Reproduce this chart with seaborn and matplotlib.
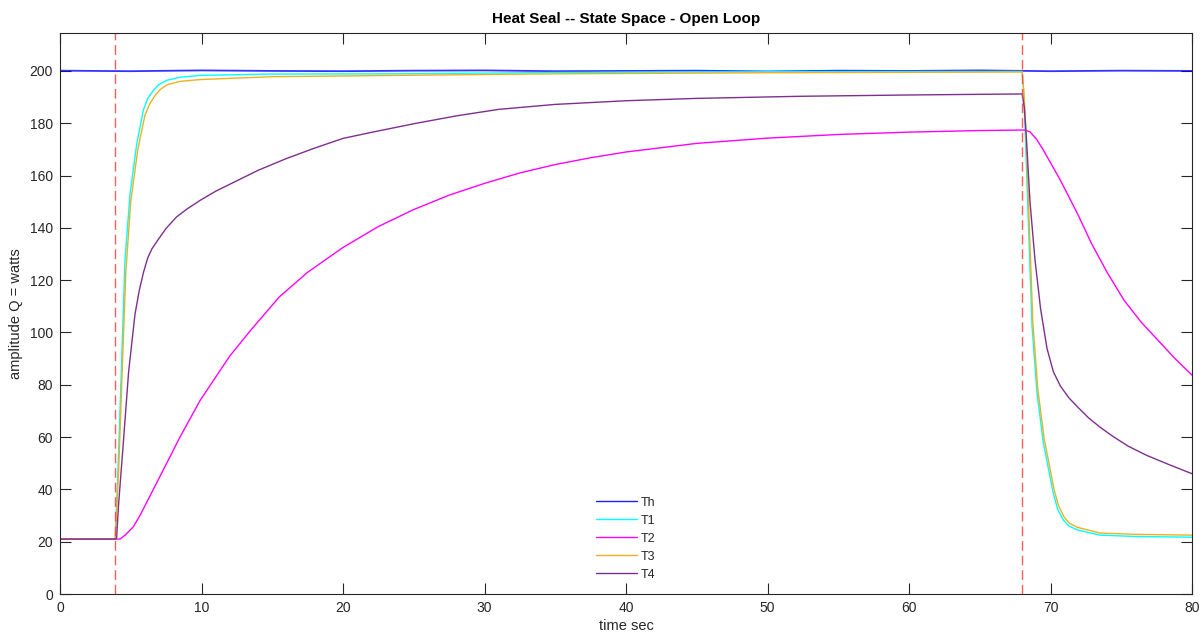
import numpy as np
import pandas as pd
import matplotlib
matplotlib.use("Agg")
import matplotlib.pyplot as plt
import seaborn as sns

# ---- data ----
series_names = ["Th", "T1", "T2", "T3", "T4"]

t_th = [0, 5, 10, 15, 20, 25, 30, 35, 40, 45, 50, 55, 60, 65, 70, 75, 80]
v_th = [200.1, 199.9, 200.2, 200.0, 199.9, 200.1, 200.2, 199.9, 200.0, 200.1,
        199.8, 200.1, 200.0, 200.2, 199.9, 200.1, 200.0]

t_t1 = [0, 3.9, 4.12, 4.36, 4.59, 4.95, 5.42, 5.89, 6.2, 6.6, 7.0, 7.54, 8.5, 9.9, 15, 24, 35, 50, 68,
        68.1, 68.2, 68.45, 68.7, 69.05, 69.5, 70.2, 70.5, 70.9, 71.3, 71.9, 73.5, 76, 80]
v_t1 = [21, 21, 51, 89.4, 127.6, 153, 172, 185, 189.5, 192.6, 194.8, 196.4, 197.6, 198.3, 198.8, 198.9,
        199.4, 199.7, 199.8,
        192, 178.6, 140, 102, 76.7, 57.6, 38.5, 32.5, 28.3, 26, 24.5, 22.5, 22.0, 21.7]

t_t2 = [0, 3.9, 4.24, 4.6, 5.18, 5.65, 6.36, 7.54, 8.48, 9.9, 12, 13.5, 15.5, 17.5, 20, 22.5, 25,
        27.5, 30, 32.5, 35, 37.5, 40, 45, 50, 55, 60, 65, 68, 68.2, 68.55, 69.0, 69.5, 70.7, 71.9,
        72.9, 74, 75.2, 76.4, 77.6, 78.8, 80]
v_t2 = [21, 21, 21, 22.5, 25.7, 30, 37.5, 50, 60, 74, 91, 101, 113.6, 123, 132.5, 140.5, 147,
        152.5, 157, 161, 164.2, 166.8, 169, 172.3, 174.3, 175.7, 176.6, 177.2, 177.4, 177.4, 176.7,
        174, 169.7, 158.2, 145.5, 134, 123, 112.3, 104, 97, 90, 83.7]

t_t3 = [0, 3.9, 4.15, 4.4, 4.65, 5.0, 5.5, 6.0, 6.35, 6.7, 7.1, 7.6, 8.5, 9.9, 15, 24, 35, 50, 68,
        68.12, 68.25, 68.5, 68.75, 69.1, 69.55, 70.25, 70.55, 70.95, 71.35, 71.9, 73.5, 76, 80]
v_t3 = [21, 21, 48, 86, 123, 150, 170, 183, 187.5, 190.5, 193, 194.8, 196, 196.7, 197.8, 198.3,
        198.9, 199.3, 199.6,
        192, 179, 141, 104, 78.5, 59.5, 40, 34, 29.5, 27, 25.5, 23.3, 22.8, 22.5]

t_t4 = [0, 3.9, 4.0, 4.15, 4.45, 4.85, 5.3, 5.6, 5.9, 6.2, 6.5, 7.0, 7.5, 8.24, 9.0, 9.9, 11, 12.5,
        14, 16, 18, 20, 22, 25, 28, 31, 35, 40, 45, 52.3, 60, 68,
        68.15, 68.3, 68.55, 68.9, 69.3, 69.75, 70.2, 70.7, 71.3, 71.9, 72.7, 73.5, 74.4, 75.5,
        76.8, 78.5, 80]
v_t4 = [21, 21, 21.5, 35, 56, 85, 107, 116, 123, 128.5, 132, 136, 139.8, 144.2, 147.3, 150.5, 154,
        158, 162, 166.5, 170.5, 174.2, 176.5, 179.8, 182.8, 185.3, 187.2, 188.6, 189.5, 190.3,
        190.8, 191.2,
        186, 174, 150, 128, 109, 94, 85, 79.5, 75, 71.6, 67.3, 63.8, 60.3, 56.5,
        53, 49.2, 46]

event_times = [3.9, 68]

x_ticks = [0, 10, 20, 30, 40, 50, 60, 70, 80]
y_ticks = [0, 20, 40, 60, 80, 100, 120, 140, 160, 180, 200]

colors = {"Th": "#0000ff", "T1": "#00ffff", "T2": "#ff00ff",
          "T3": "#edb120", "T4": "#7e2f8e"}

frames = []
for name, tt, vv in [("Th", t_th, v_th), ("T1", t_t1, v_t1), ("T2", t_t2, v_t2),
                     ("T3", t_t3, v_t3), ("T4", t_t4, v_t4)]:
    frames.append(pd.DataFrame({"t": tt, "v": vv, "series": name}))
df = pd.concat(frames, ignore_index=True)

sns.set_style("white")
plt.rcParams["font.family"] = ["Liberation Sans", "DejaVu Sans"]

fig = plt.figure(figsize=(12.02, 6.39), dpi=100)
ax = fig.add_axes([60 / 1202, 1 - 594 / 639, 1132 / 1202, 561 / 639])

for name in series_names:
    sub = df[df["series"] == name]
    sns.lineplot(data=sub, x="t", y="v", color=colors[name], lw=1.0 if name != "Th" else 1.3,
                 estimator=None, sort=False, ax=ax, label=name,
                 alpha=0.8 if name == "Th" else 1.0)

for et in event_times:
    ax.axvline(et, color="#ff4040", ls=(0, (7, 3.5)), lw=1.0, alpha=0.85)

ax.set_xlim(0, 80)
ax.set_ylim(0, 214.5)
ax.set_xticks(x_ticks)
ax.set_yticks(y_ticks)
ax.tick_params(direction="in", length=8, width=0.8, top=True, right=True, bottom=True, left=True,
               labelsize=10, colors="#262626", labeltop=False, labelright=False, pad=5)
for sp in ax.spines.values():
    sp.set_visible(True)
    sp.set_color("#262626")
    sp.set_linewidth(0.8)

ax.set_title("Heat Seal -- State Space - Open Loop", fontsize=11, fontweight="bold",
             color="#000000", pad=7)
ax.set_xlabel("time sec", fontsize=10.5, color="#262626", labelpad=3)
ax.set_ylabel("amplitude Q = watts", fontsize=10.5, color="#262626", labelpad=5)

leg = ax.legend(loc="lower center", bbox_to_anchor=(0.5, 0.015), frameon=False,
                fontsize=9, handlelength=3.3, handletextpad=0.3, labelspacing=0.48,
                borderaxespad=0)
for line in leg.get_lines():
    line.set_linewidth(1.0)
    line.set_alpha(1.0)
leg.get_lines()[0].set_color("#2020ff")

fig.savefig("out.png", dpi=100)
